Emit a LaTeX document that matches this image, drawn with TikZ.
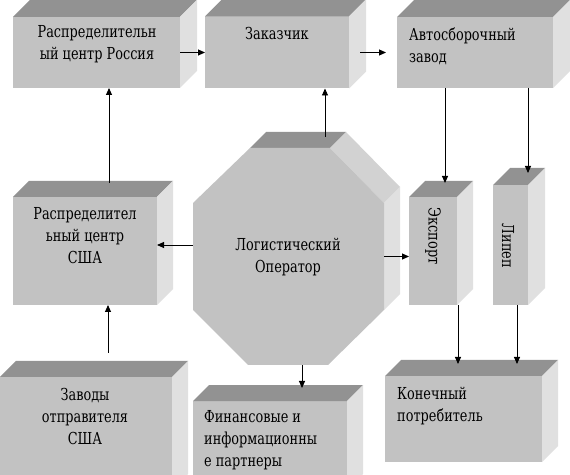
\documentclass[tikz,border=0pt]{standalone}
\usepackage{fontspec}
\newfontfamily\serfont{DejaVu Serif}[FakeStretch=0.78]
\usetikzlibrary{arrows.meta,calc}
\definecolor{frontc}{RGB}{194,194,194}
\definecolor{topc}{RGB}{146,146,146}
\definecolor{sidec}{RGB}{224,224,224}
\definecolor{slantc}{RGB}{210,210,210}
\newcommand\boxfaces[2]{%
  \fill[topc] (#1.north west) -- ++(#2,#2) -- ($(#1.north east)+(#2,#2)$) -- (#1.north east) -- cycle;
  \fill[sidec] (#1.north east) -- ++(#2,#2) -- ($(#1.south east)+(#2,#2)$) -- (#1.south east) -- cycle;
}
\begin{document}
\begin{tikzpicture}[x=1pt,y=1pt,
  front/.style={rectangle,fill=frontc,draw=none,inner sep=0pt,outer sep=0pt},
  lbl/.style={inner sep=0pt,font=\serfont\fontsize{16.5}{22}\selectfont},
  arr/.style={line width=0.9pt,-{Triangle[length=7pt,width=6pt]}}]
\path[use as bounding box] (0,0) rectangle (570,474);
\clip (0,0) rectangle (570,474);
\fill[white] (0,0) rectangle (570,474);

% boxes (front faces)
\node[front,minimum width=167pt,minimum height=71pt] (rus) at (96.5,421.5) {};
\node[front,minimum width=144pt,minimum height=72pt] (zak) at (277,421.5) {};
\node[front,minimum width=156pt,minimum height=71pt] (avto) at (475,421.5) {};
\node[front,minimum width=144pt,minimum height=108pt] (usa) at (85,223) {};
\node[front,minimum width=172pt,minimum height=113pt] (zav) at (86,40.5) {};
\node[front,minimum width=154pt,minimum height=89pt] (fin) at (270,28.5) {};
\node[front,minimum width=157pt,minimum height=86pt] (kon) at (463.5,55) {};
\node[front,minimum width=48pt,minimum height=108pt] (exp) at (433,223) {};
\node[front,minimum width=35pt,minimum height=120pt] (lip) at (510.5,229) {};
\boxfaces{rus}{17}
\boxfaces{zak}{17}
\boxfaces{avto}{17}
\boxfaces{usa}{16}
\boxfaces{zav}{16}
\boxfaces{fin}{16}
\boxfaces{kon}{16}
\boxfaces{exp}{16}
\boxfaces{lip}{17}

% octagon prism
\fill[topc] (250,326) -- (266,342) -- (346,342) -- (330,326) -- cycle;
\fill[slantc] (330,326) -- (346,342) -- (400,287) -- (384,271) -- cycle;
\fill[sidec] (384,271) -- (400,287) -- (400,180) -- (384,164) -- cycle;
\fill[frontc] (250,326) -- (330,326) -- (384,271) -- (384,164) -- (328,109) -- (248,109) -- (193,164) -- (193,271) -- cycle;
\node[inner sep=0pt,minimum width=191pt,minimum height=217pt] (op) at (288.5,217.5) {};

% texts
\node[lbl,align=center] (trus) at (97,430) {Распределительн\\ый центр Россия};
\node[lbl] (tzak) at (277,441) {Заказчик};
\node[lbl,align=left,anchor=west] (tavto) at (409,427.5) {Автосборочный\\завод};
\node[lbl,align=center] (tusa) at (85,238) {Распределител\\ьный центр\\США};
\node[lbl,align=center] (tzav) at (85,58) {Заводы\\отправителя\\США};
\node[lbl,align=left,anchor=west] (tfin) at (204,34) {Финансовые и\\информационны\\е партнеры};
\node[lbl,align=left,anchor=west] (tkon) at (397,68) {Конечный\\потребитель};
\node[lbl,align=center] (top) at (288,216.5) {Логистический\\Оператор};
\node[lbl,rotate=-90] (texp) at (433,238) {Экспорт};
\node[lbl,rotate=-90] (tlip) at (508,228) {Липеп};

% connectors
\draw[arr] (rus.east) -- (zak.west);
\draw[arr] ([xshift=11pt]zak.east) -- ([xshift=-11pt]avto.west);
\draw[arr] ([xshift=24pt,yshift=14pt]usa.north) -- ([xshift=12.5pt]rus.south);
\draw[arr] ([xshift=22pt,yshift=24pt]zav.north) -- ([xshift=23pt]usa.south);
\draw[arr] ([yshift=11.5pt]op.west) -- ([yshift=6pt]usa.east);
\draw[arr] (op.east) -- ([yshift=-5.5pt]exp.west);
\draw[arr] ([xshift=36.5pt,yshift=11pt]op.north) -- ([xshift=48pt]zak.south);
\draw[arr] ([xshift=13.5pt]op.south) -- ([xshift=32pt,yshift=13pt]fin.north);
\draw[arr] ([xshift=-30pt]avto.south) -- ([xshift=12pt,yshift=14pt]exp.north);
\draw[arr] ([xshift=53pt]avto.south) -- ([xshift=17.5pt,yshift=12pt]lip.north);
\draw[arr] ([xshift=25pt]exp.south) -- ([xshift=-5.5pt,yshift=12pt]kon.north);
\draw[arr] ([xshift=6.5pt]lip.south) -- ([xshift=53.5pt,yshift=12pt]kon.north);
\end{tikzpicture}
\end{document}
